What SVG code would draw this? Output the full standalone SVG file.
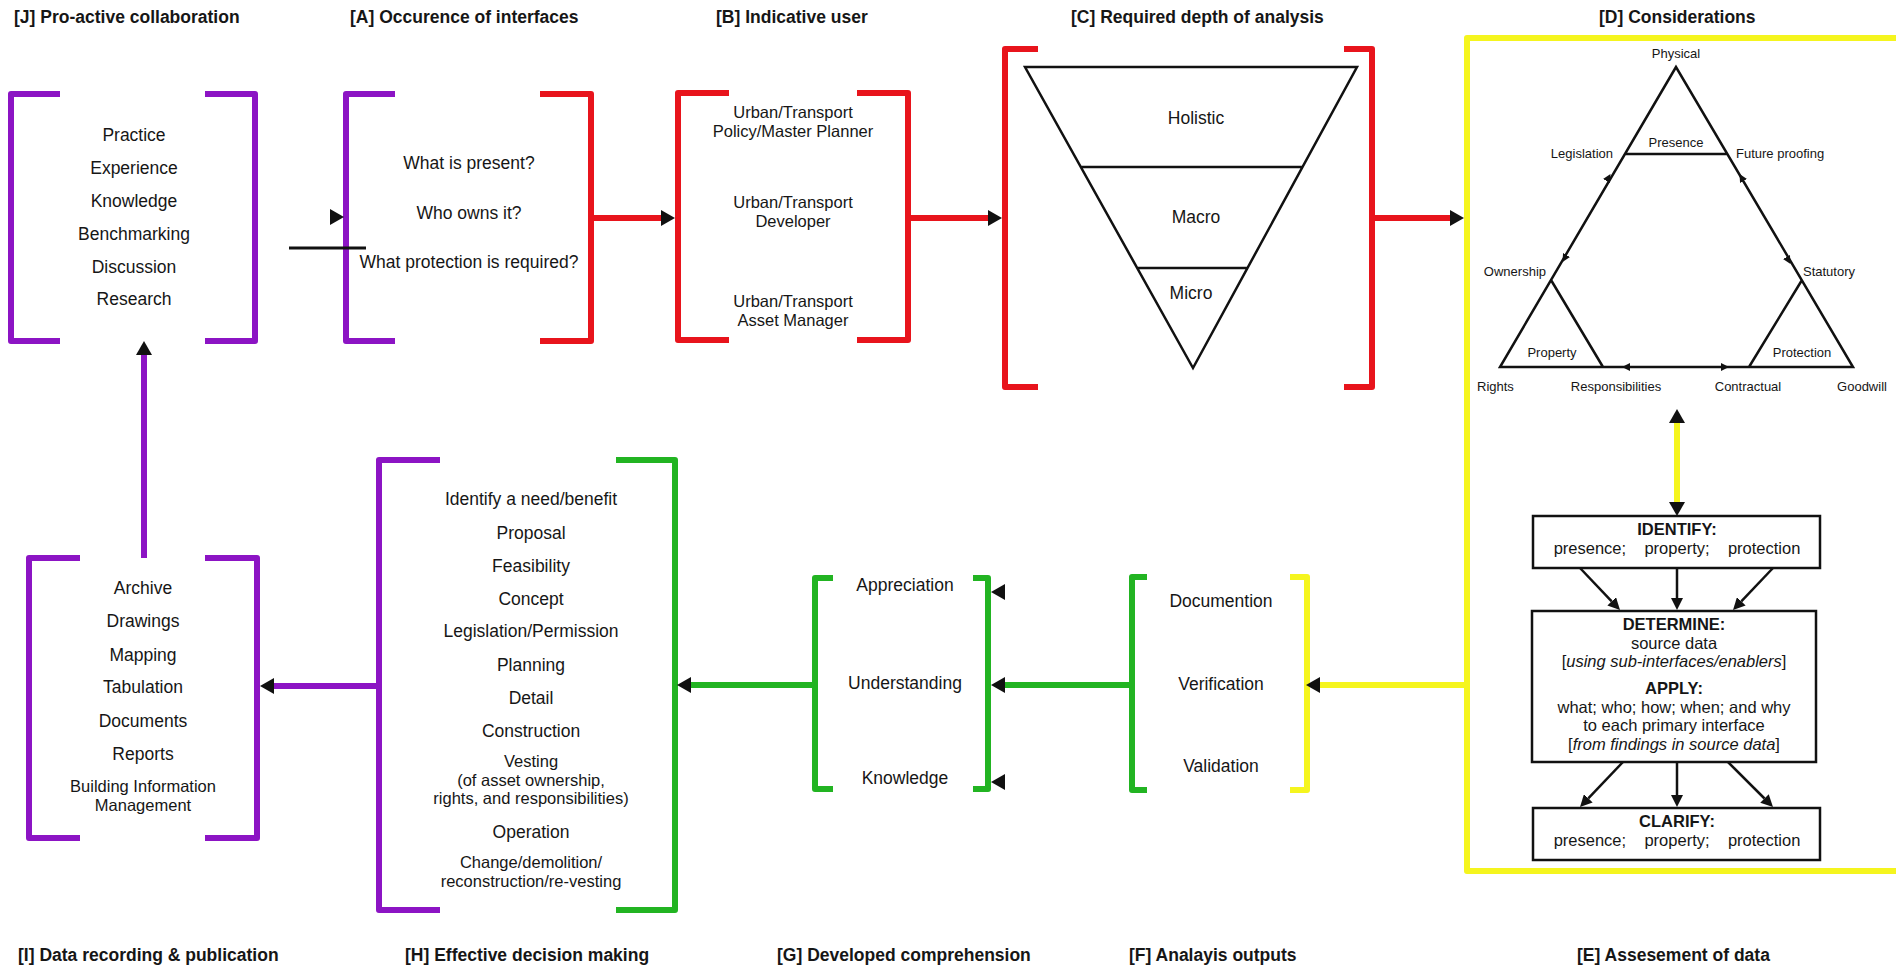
<svg xmlns="http://www.w3.org/2000/svg" width="1896" height="967" viewBox="0 0 1896 967">
<defs>
<style>
.t{font-family:"Liberation Sans",Arial,sans-serif;font-size:17.5px;fill:#161616;text-anchor:middle}
.t2{font-family:"Liberation Sans",Arial,sans-serif;font-size:16.5px;fill:#161616;text-anchor:middle}
.bx{font-family:"Liberation Sans",Arial,sans-serif;font-size:16.5px;fill:#161616;text-anchor:middle}
.bd{font-weight:bold}
.ttl{font-family:"Liberation Sans",Arial,sans-serif;font-size:17.5px;font-weight:bold;fill:#161616}
.s{font-family:"Liberation Sans",Arial,sans-serif;font-size:13px;fill:#161616}
.m{text-anchor:middle}
.e{text-anchor:end}
.b{fill:none;stroke-width:6;stroke-linejoin:round;stroke-linecap:butt}
.pu{stroke:#8c14c4}
.re{stroke:#e8141c}
.gr{stroke:#22b422}
.ye{stroke:#f5f51e}
.k{fill:none;stroke:#111;stroke-width:2.5}
.kb{fill:#fff;stroke:#111;stroke-width:2.5}
.c{fill:none;stroke-width:6}
</style>
<marker id="ah" markerUnits="userSpaceOnUse" markerWidth="14" markerHeight="16" refX="0" refY="8" orient="auto-start-reverse"><path d="M0,0L14,8L0,16z" fill="#111"/></marker>
<marker id="ak" markerUnits="userSpaceOnUse" markerWidth="12" markerHeight="12" refX="0" refY="6" orient="auto"><path d="M0,0L12,6L0,12z" fill="#111"/></marker>
<marker id="sm" markerUnits="userSpaceOnUse" markerWidth="8" markerHeight="8" refX="8" refY="4" orient="auto"><path d="M0,0L8,4L0,8z" fill="#111"/></marker>
</defs>
<rect width="1896" height="967" fill="#fff"/>

<g id="J">
<text class="ttl" x="14" y="23">[J] Pro-active collaboration</text>
<path class="b pu" d="M60,94H11V341H60M205,94H255V341H205"/>
<text class="t" x="134" y="141">Practice</text>
<text class="t" x="134" y="174">Experience</text>
<text class="t" x="134" y="207">Knowledge</text>
<text class="t" x="134" y="240">Benchmarking</text>
<text class="t" x="134" y="273">Discussion</text>
<text class="t" x="134" y="305">Research</text>
</g>

<g id="A">
<text class="ttl" x="350" y="23">[A] Occurence of interfaces</text>
<path class="b pu" d="M395,94H346V341H395"/>
<path class="b re" d="M540,94H591V341H540"/>
<text class="t" x="469" y="169">What is present?</text>
<text class="t" x="469" y="219">Who owns it?</text>
<text class="t" x="469" y="268">What protection is required?</text>
</g>

<g id="B">
<text class="ttl" x="716" y="23">[B] Indicative user</text>
<path class="b re" d="M729,93H678V340H729M857,93H908V340H857"/>
<text class="t2" x="793" y="118">Urban/Transport<tspan x="793" dy="18.5">Policy/Master Planner</tspan></text>
<text class="t2" x="793" y="208">Urban/Transport<tspan x="793" dy="18.5">Developer</tspan></text>
<text class="t2" x="793" y="307">Urban/Transport<tspan x="793" dy="18.5">Asset Manager</tspan></text>
</g>

<g id="C">
<text class="ttl" x="1071" y="23">[C] Required depth of analysis</text>
<path class="b re" d="M1038,49H1005V387H1038M1344,49H1372V387H1344"/>
<path class="k" d="M1025,67H1357L1193,368Z M1080.8,167H1302.5 M1137,268H1247.5"/>
<text class="t" x="1196" y="124">Holistic</text>
<text class="t" x="1196" y="223">Macro</text>
<text class="t" x="1191" y="299">Micro</text>
</g>

<g id="D">
<text class="ttl" x="1599" y="23">[D] Considerations</text>
<path class="b ye" d="M1910,38H1467V871H1910"/>
<path class="k" d="M1676,67L1500,367H1853Z M1625,154H1727 M1551,280L1603,367 M1802,280L1749,367"/>
<path fill="none" stroke="none" marker-end="url(#sm)" d="M1607,180L1610.5,174"/>
<path fill="none" stroke="none" marker-end="url(#sm)" d="M1566,256L1562.5,262"/>
<path fill="none" stroke="none" marker-end="url(#sm)" d="M1743,180L1739.5,174"/>
<path fill="none" stroke="none" marker-end="url(#sm)" d="M1787,258L1790.5,264"/>
<path fill="none" stroke="none" marker-end="url(#sm)" d="M1628,367L1622,367"/>
<path fill="none" stroke="none" marker-end="url(#sm)" d="M1723,367L1729,367"/>
<text class="s m" x="1676" y="58">Physical</text>
<text class="s m" x="1676" y="147">Presence</text>
<text class="s e" x="1613" y="158">Legislation</text>
<text class="s" x="1736" y="158">Future proofing</text>
<text class="s e" x="1546" y="276">Ownership</text>
<text class="s" x="1803" y="276">Statutory</text>
<text class="s m" x="1552" y="357">Property</text>
<text class="s m" x="1802" y="357">Protection</text>
<text class="s" x="1477" y="391">Rights</text>
<text class="s m" x="1616" y="391">Responsibilities</text>
<text class="s m" x="1748" y="391">Contractual</text>
<text class="s m" x="1862" y="391">Goodwill</text>
</g>

<g id="E">
<text class="ttl" x="1577" y="961">[E] Assesement of data</text>
<rect class="kb" x="1533" y="516" width="287" height="52"/>
<text class="bx" x="1677" y="535" xml:space="preserve"><tspan class="bd">IDENTIFY:</tspan><tspan x="1677" dy="18.5">presence;    property;    protection</tspan></text>
<rect class="kb" x="1532" y="611" width="284" height="151"/>
<text class="bx" x="1674" y="630"><tspan class="bd">DETERMINE:</tspan><tspan x="1674" dy="18.5">source data</tspan><tspan x="1674" dy="18.5">[<tspan font-style="italic">using sub-interfaces/enablers</tspan>]</tspan><tspan x="1674" dy="27" class="bd">APPLY:</tspan><tspan x="1674" dy="18.5">what; who; how; when; and why</tspan><tspan x="1674" dy="18.5">to each primary interface</tspan><tspan x="1674" dy="18.5">[<tspan font-style="italic">from findings in source data</tspan>]</tspan></text>
<rect class="kb" x="1533" y="808" width="287" height="52"/>
<text class="bx" x="1677" y="827" xml:space="preserve"><tspan class="bd">CLARIFY:</tspan><tspan x="1677" dy="18.5">presence;    property;    protection</tspan></text>
</g>

<g id="F">
<text class="ttl" x="1129" y="961">[F] Analayis outputs</text>
<path class="b gr" d="M1147,577H1132V790H1147"/>
<path class="b ye" d="M1290,577H1307V790H1290"/>
<text class="t" x="1221" y="607">Documention</text>
<text class="t" x="1221" y="690">Verification</text>
<text class="t" x="1221" y="772">Validation</text>
</g>

<g id="G">
<text class="ttl" x="777" y="961">[G] Developed comprehension</text>
<path class="b gr" d="M833,578H815V789H833M973,578H988V789H973"/>
<text class="t" x="905" y="591">Appreciation</text>
<text class="t" x="905" y="689">Understanding</text>
<text class="t" x="905" y="784">Knowledge</text>
</g>

<g id="H">
<text class="ttl" x="405" y="961">[H] Effective decision making</text>
<path class="b pu" d="M440,460H379V910H440"/>
<path class="b gr" d="M616,460H675V910H616"/>
<text class="t" x="531" y="505">Identify a need/benefit</text>
<text class="t" x="531" y="539">Proposal</text>
<text class="t" x="531" y="572">Feasibility</text>
<text class="t" x="531" y="605">Concept</text>
<text class="t" x="531" y="637">Legislation/Permission</text>
<text class="t" x="531" y="671">Planning</text>
<text class="t" x="531" y="704">Detail</text>
<text class="t" x="531" y="737">Construction</text>
<text class="t2" x="531" y="767">Vesting<tspan x="531" dy="18.5">(of asset ownership,</tspan><tspan x="531" dy="18.5">rights, and responsibilities)</tspan></text>
<text class="t" x="531" y="838">Operation</text>
<text class="t2" x="531" y="868">Change/demolition/<tspan x="531" dy="18.5">reconstruction/re-vesting</tspan></text>
</g>

<g id="I">
<text class="ttl" x="18" y="961">[I] Data recording &amp; publication</text>
<path class="b pu" d="M80,558H29V838H80M205,558H257V838H205"/>
<text class="t" x="143" y="594">Archive</text>
<text class="t" x="143" y="627">Drawings</text>
<text class="t" x="143" y="661">Mapping</text>
<text class="t" x="143" y="693">Tabulation</text>
<text class="t" x="143" y="727">Documents</text>
<text class="t" x="143" y="760">Reports</text>
<text class="t2" x="143" y="792">Building Information<tspan x="143" dy="18.5">Management</tspan></text>
</g>

<g id="connectors">
<path class="c re" d="M591,218H661" marker-end="url(#ah)"/>
<path class="c re" d="M908,218H988" marker-end="url(#ah)"/>
<path class="c re" d="M1372,218H1450" marker-end="url(#ah)"/>
<path class="c ye" d="M1677,423V502" marker-start="url(#ah)" marker-end="url(#ah)"/>
<path class="k" d="M1580,568L1611.7,601.3" marker-end="url(#ak)"/>
<path class="k" d="M1677,568V598" marker-end="url(#ak)"/>
<path class="k" d="M1773,568L1741.3,601.3" marker-end="url(#ak)"/>
<path class="k" d="M1623,762L1588.3,798.3" marker-end="url(#ak)"/>
<path class="k" d="M1677,762V795" marker-end="url(#ak)"/>
<path class="k" d="M1728,762L1764.5,798.5" marker-end="url(#ak)"/>
<path class="c ye" d="M1467,685H1320" marker-end="url(#ah)"/>
<path class="c gr" d="M1132,685H1005" marker-end="url(#ah)"/>
<polygon points="991,592 1005,584 1005,600" fill="#111"/>
<polygon points="991,782 1005,774 1005,790" fill="#111"/>
<path class="c gr" d="M815,685H691" marker-end="url(#ah)"/>
<path class="c pu" d="M379,686H274" marker-end="url(#ah)"/>
<path class="c pu" d="M144,558V355" marker-end="url(#ah)"/>
<polygon points="330,209 344,217 330,225" fill="#111"/>
<path d="M289,248H366" stroke="#111" stroke-width="3"/>
</g>
</svg>
